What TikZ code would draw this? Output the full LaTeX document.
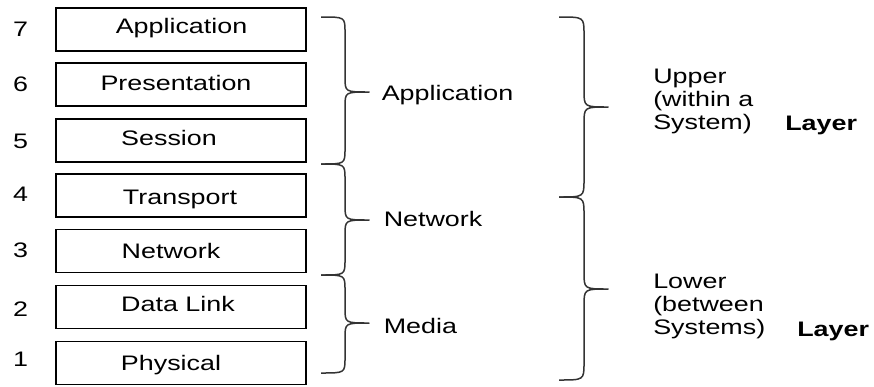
\documentclass[tikz,border=0pt]{standalone}
\usepackage{fontspec}
\setmainfont{Liberation Sans}
\begin{document}
\begin{tikzpicture}[x=1pt,y=-1pt,
  layerbox/.style={draw=black,line width=1.8pt,minimum width=250pt,minimum height=43pt,inner sep=0pt},
  txt/.style={font=\fontsize{21}{23}\selectfont,inner sep=0pt,xscale=1.28},
  boxlabel/.style={txt,anchor=base},
  num/.style={txt,anchor=base},
  grouplabel/.style={txt,anchor=base west},
  bracestyle/.style={draw=black!80,line width=1.5pt,line join=round}]
\useasboundingbox (0,0) rectangle (874,386);

% curly brace: end x, spine x, tip x, top y, tip y, bottom y, corner radius
\newcommand\layerbrace[7]{%
  \draw[bracestyle] (#1,#4) .. controls (#2,#4) .. (#2,#4+#7)
    -- (#2,#5-#7) .. controls (#2,#5) .. (#3,#5)
    .. controls (#2,#5) .. (#2,#5+#7)
    -- (#2,#6-#7) .. controls (#2,#6) .. (#1,#6);}

% the seven layer boxes
\node[layerbox] (b7) at (181,29.5) {};
\node[layerbox] (b6) at (181,84.5) {};
\node[layerbox] (b5) at (181,140.5) {};
\node[layerbox] (b4) at (181,195.5) {};
\node[layerbox] (b3) at (181,251) {};
\node[layerbox] (b2) at (181,307) {};
\node[layerbox] (b1) at (181,363) {};

\node[boxlabel] (t7) at (181.5,33.3) {Application};
\node[boxlabel] (t6) at (176,90) {Presentation};
\node[boxlabel] (t5) at (169,145) {Session};
\node[boxlabel] (t4) at (180,204) {Transport};
\node[boxlabel] (t3) at (171,258.3) {Network};
\node[boxlabel] (t2) at (178,311) {Data Link};
\node[boxlabel] (t1) at (171,370) {Physical};

% layer numbers
\node[num] (n7) at (20.5,36.7) {7};
\node[num] (n6) at (20.5,91.7) {6};
\node[num] (n5) at (20.5,148.3) {5};
\node[num] (n4) at (20.5,201.7) {4};
\node[num] (n3) at (20.5,257.3) {3};
\node[num] (n2) at (20.5,316.7) {2};
\node[num] (n1) at (20.5,366.7) {1};

% first level of grouping
\layerbrace{321}{345}{369}{17}{92}{164}{15}
\layerbrace{321}{345}{369}{164}{220}{275}{15}
\layerbrace{321}{345}{369}{275}{323}{373}{15}
\node[grouplabel] (gapp) at (381.5,100) {Application};
\node[grouplabel] (gnet) at (383.5,226.7) {Network};
\node[grouplabel] (gmed) at (383.5,333) {Media};

% second level of grouping
\layerbrace{559}{584}{608}{17}{107}{197}{17}
\layerbrace{559}{584}{608}{197}{289}{380}{17}
\node[grouplabel,anchor=north west,align=left] (up) at (653,69) {Upper\\(within a\\System)};
\node[grouplabel,font=\fontsize{21}{23}\selectfont\bfseries] (upl) at (785,130) {Layer};
\node[grouplabel,anchor=north west,align=left] (lo) at (653,274) {Lower\\(between\\Systems)};
\node[grouplabel,font=\fontsize{21}{23}\selectfont\bfseries] (lol) at (797,336.7) {Layer};
\end{tikzpicture}
\end{document}
